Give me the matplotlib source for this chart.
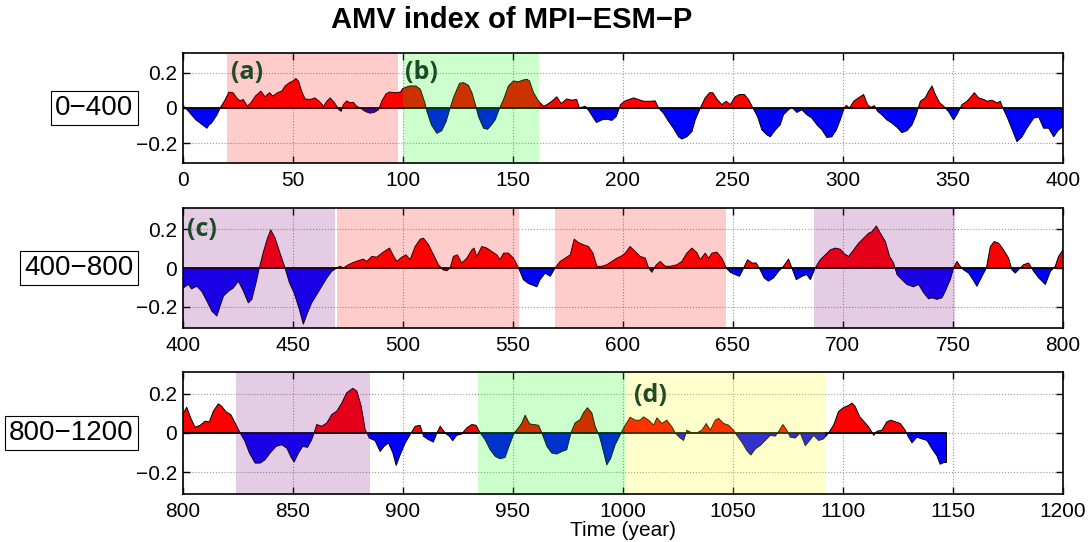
import numpy as np
import matplotlib
matplotlib.use("Agg")
import matplotlib.pyplot as plt

plt.rcParams['font.family'] = ['Liberation Sans', 'DejaVu Sans']

# AMV index, one list pair per panel (year, value)
year_0_400 = [0, 2, 6, 9, 11, 12, 13, 15.5, 17, 19, 21, 23, 24.5, 26, 27.5, 29.4, 31, 33, 35.5, 37.4,
              39.4, 41, 43, 45, 46.5, 48.5, 50, 51.4, 52.6, 54, 55.6, 58, 60, 62, 64, 65.5, 67, 69, 71, 72,
              73, 74.5, 76, 77.5, 79, 80.6, 83, 85, 87, 89, 90.5, 92.4, 94, 96.5, 99, 100, 103, 106, 108, 110,
              111, 113, 115.5, 117.7, 119.7, 121.5, 123.3, 125.8, 127.6, 129.8, 131.4, 133, 134.4, 136.7, 138.5, 140, 142, 144, 145.8, 148,
              150.3, 152.6, 154.8, 156.4, 157.6, 159.4, 161.7, 164, 165.5, 167.7, 170, 172, 174.5, 176.8, 179, 180.3, 182.9, 184.8, 186.7, 188,
              190.5, 192.7, 195, 197, 199, 201, 204.9, 207.1, 209.4, 212.4, 214.7, 216.2, 218.5, 220.8, 223, 225.3, 226.8, 229.1, 231.4, 232.9,
              235.2, 237.4, 239.4, 240.9, 242.7, 245, 247, 248.8, 251, 253, 255.2, 257.1, 259.1, 261.2, 263.2, 265.5, 267, 269.3, 271.5, 273,
              275.3, 276.8, 279.1, 281.4, 283.6, 285.9, 288.2, 290.5, 292.7, 295, 297, 298.8, 300.6, 301.5, 303, 304.9, 307.1, 309.4, 311.2, 312.7,
              314.3, 315.8, 317.7, 320, 322.3, 324.6, 326.8, 329.1, 331.4, 333.3, 335.2, 337.4, 339, 340.5, 342, 344, 345.8, 348, 350.3, 352.1,
              354.1, 356.4, 358.2, 359.7, 361.7, 364, 365.5, 367.7, 370, 371.5, 372.7, 374.5, 376.4, 379.1, 381.4, 383.6, 386.7, 389, 391.2, 393.5,
              395.8, 398]
amv_0_400 = [0.015, -0.01, -0.067, -0.095, -0.114, -0.095, -0.086, -0.04, 0.0, 0.04, 0.09, 0.085, 0.057, 0.04, 0.048, 0.01, 0.03, 0.067, 0.095, 0.063,
             0.086, 0.067, 0.086, 0.095, 0.124, 0.143, 0.152, 0.166, 0.152, 0.095, 0.051, 0.048, 0.057, 0.038, 0.01, 0.038, 0.057, 0.029, -0.01, -0.019,
             0.019, 0.04, 0.029, 0.032, 0.01, 0.0, -0.02, -0.029, -0.025, -0.01, 0.04, 0.08, 0.09, 0.086, 0.09, 0.11, 0.124, 0.124, 0.105, 0.03,
             -0.02, -0.095, -0.143, -0.128, -0.076, 0.0, 0.067, 0.139, 0.143, 0.128, 0.086, 0.019, -0.048, -0.114, -0.12, -0.1, -0.067, 0.0, 0.048, 0.124,
             0.152, 0.148, 0.158, 0.162, 0.152, 0.086, 0.038, 0.01, 0.019, 0.038, 0.063, 0.025, 0.051, 0.044, 0.048, 0.0, 0.01, -0.02, -0.057, -0.082,
             -0.067, -0.063, -0.07, -0.048, 0.02, 0.04, 0.057, 0.048, 0.038, 0.038, 0.04, 0.0, -0.03, -0.076, -0.114, -0.162, -0.175, -0.162, -0.133, -0.067,
             0.0, 0.057, 0.086, 0.086, 0.051, 0.019, 0.038, 0.019, 0.063, 0.076, 0.076, 0.048, 0.0, -0.048, -0.124, -0.152, -0.162, -0.124, -0.095, -0.038,
             -0.01, 0.004, -0.025, -0.01, -0.038, -0.057, -0.095, -0.124, -0.166, -0.162, -0.124, -0.067, 0.0, 0.015, 0.0, 0.038, 0.057, 0.076, 0.019, 0.004,
             0.013, -0.019, -0.038, -0.067, -0.086, -0.109, -0.139, -0.128, -0.095, -0.038, 0.038, 0.057, 0.095, 0.124, 0.076, 0.029, 0.01, -0.02, -0.067, -0.03,
             0.019, 0.038, 0.063, 0.086, 0.057, 0.048, 0.038, 0.044, 0.029, 0.038, 0.0, -0.048, -0.105, -0.19, -0.162, -0.114, -0.057, -0.051, -0.114, -0.114,
             -0.162, -0.124]

year_400_800 = [400, 402.6, 404, 406.4, 408.6, 411, 413.2, 415.5, 417, 418.5, 420.8, 423, 425.3, 427.6, 429.8, 431.4, 433.3, 434.8, 436.7, 438.5,
                440, 442, 444.2, 446.5, 448.5, 450.6, 453, 454.8, 456.4, 458.6, 460.9, 463.2, 465.5, 467.7, 470, 471.5, 473, 475.3, 477.6, 479.8,
                482.1, 483.6, 485.9, 488.2, 490.5, 492.7, 494, 495.5, 497.3, 499.5, 501.5, 503.3, 505.6, 507.9, 509.4, 511.7, 514, 516.2, 518.2, 520,
                521.5, 523, 524.8, 526.8, 529.1, 531.4, 532.4, 533.6, 535.9, 538.2, 540.5, 542.7, 544.2, 545.8, 548, 550.3, 552.6, 554.8, 557.1, 559.4,
                560.9, 562.4, 564.7, 567, 569.2, 571.5, 573.8, 576.1, 577.9, 579.8, 582.1, 584.4, 586.4, 588.2, 590.5, 592.7, 595, 597.3, 599.5, 601.1,
                603.3, 605.6, 607.9, 610.2, 611.7, 613.2, 615.2, 617, 619.3, 621.5, 624.6, 626.8, 629.1, 631.4, 633.6, 635.2, 637.4, 639, 640.5, 642.7,
                645, 647, 648.8, 651.1, 653, 654.9, 656.7, 658.6, 660.6, 662.4, 664.2, 666.2, 668.5, 670.8, 673, 675.3, 676.8, 678.8, 681.4, 683.6,
                685.2, 687.4, 689.7, 692, 694.3, 696.5, 698.8, 700.6, 702.6, 704.9, 707.1, 709.4, 711.7, 713.2, 715.2, 717, 719.3, 721.2, 723, 724.6,
                726.8, 729.1, 732.1, 734.4, 736.7, 738.9, 740.5, 742.7, 745, 746.5, 748.8, 750.3, 751.8, 753.3, 754.8, 757.1, 759.1, 760.9, 763.2, 765.2,
                767, 768.8, 770.8, 773, 775.3, 776.8, 778.3, 780.6, 782.1, 784.4, 786.7, 789, 792, 794.3, 796.5, 798]
amv_400_800 = [-0.105, -0.085, -0.108, -0.094, -0.12, -0.171, -0.222, -0.248, -0.197, -0.145, -0.12, -0.103, -0.068, -0.12, -0.18, -0.162, -0.077, 0.0, 0.085, 0.154,
               0.197, 0.154, 0.077, 0.0, -0.077, -0.128, -0.214, -0.29, -0.24, -0.18, -0.137, -0.094, -0.051, -0.017, 0.0, 0.009, 0.0, 0.017, 0.029, 0.038,
               0.046, 0.034, 0.06, 0.056, 0.077, 0.094, 0.103, 0.068, 0.034, 0.056, 0.068, 0.043, 0.111, 0.149, 0.154, 0.12, 0.068, 0.017, -0.009, -0.014,
               0.0, 0.06, 0.068, 0.026, 0.051, 0.094, 0.103, 0.06, 0.111, 0.103, 0.085, 0.068, 0.043, 0.077, 0.077, 0.051, 0.0, -0.06, -0.08, -0.09,
               -0.097, -0.06, -0.026, -0.043, 0.0, 0.034, 0.051, 0.068, 0.149, 0.132, 0.12, 0.111, 0.077, 0.009, 0.009, 0.017, 0.034, 0.051, 0.063, 0.077,
               0.111, 0.085, 0.06, 0.051, 0.0, -0.022, 0.017, 0.034, 0.009, 0.009, 0.017, 0.034, 0.077, 0.103, 0.08, 0.043, 0.077, 0.051, 0.077, 0.082,
               0.051, 0.0, -0.022, -0.034, -0.043, 0.0, 0.043, 0.026, 0.026, -0.009, -0.051, -0.068, -0.051, -0.017, 0.009, 0.046, 0.0, -0.06, -0.043, -0.034,
               -0.06, 0.0, 0.043, 0.068, 0.094, 0.103, 0.097, 0.074, 0.06, 0.094, 0.128, 0.154, 0.18, 0.188, 0.217, 0.18, 0.137, 0.06, 0.026, -0.034,
               -0.06, -0.085, -0.097, -0.085, -0.128, -0.159, -0.154, -0.162, -0.154, -0.12, -0.06, 0.0, 0.034, 0.009, -0.009, -0.026, -0.06, -0.094, -0.043, 0.0,
               0.111, 0.137, 0.128, 0.094, 0.051, -0.009, -0.026, 0.0, 0.017, 0.026, -0.017, -0.051, -0.085, -0.017, 0.009, 0.06]

year_800_1200 = [800, 801.8, 803.6, 805.6, 807.9, 810.2, 812.1, 813.9, 816.2, 817.7, 819.7, 821.8, 823.8, 826.1, 828.3, 830.3, 832.9, 835.2, 837.4, 839.7,
                 842.4, 845, 847.3, 849.1, 850.6, 852.6, 854.5, 856.7, 858.6, 859.7, 860.9, 863.2, 865.5, 867.7, 870, 872.3, 874.5, 877.3, 879.1, 881.1,
                 882.9, 884.8, 887.4, 889.7, 891.5, 893.5, 895.5, 897, 898.8, 901.1, 903.3, 905.6, 907.9, 909.4, 911.7, 913.9, 915.5, 917, 919.2, 921.2,
                 922.7, 924.5, 926.8, 929.1, 931.4, 933.3, 935.2, 937.4, 939.7, 942, 944.2, 946.5, 948.5, 950.6, 952.6, 954.1, 955.6, 957.6, 959.4, 961.7,
                 963.2, 965.5, 967.7, 970, 972.3, 974.5, 976.4, 978.3, 980.6, 982.1, 983.9, 985.9, 987.4, 989.4, 991.2, 992.7, 994.5, 996.5, 998.8, 1001.1,
                 1003.3, 1005.6, 1007.9, 1009.4, 1011.7, 1014, 1015.5, 1017.7, 1020, 1022.3, 1023.8, 1026.1, 1027.6, 1029.1, 1031.4, 1033.6, 1035.9, 1037.9, 1039.7, 1042,
                 1043.5, 1045.8, 1048, 1050.3, 1051.8, 1054.1, 1056.4, 1058.2, 1060.2, 1062.4, 1064.7, 1067, 1069.3, 1071.2, 1072.7, 1074.5, 1076.1, 1078.3, 1080.6, 1082.9,
                 1084.9, 1086.7, 1089, 1091.2, 1093.5, 1095.8, 1098, 1100.3, 1102.6, 1104.1, 1105.6, 1107.6, 1109.4, 1111.7, 1114, 1115.5, 1117.7, 1120, 1121.8, 1123.8,
                 1126.1, 1128.3, 1129.8, 1131.4, 1133.6, 1135.9, 1138.2, 1140.5, 1142.7, 1144.2, 1145.8, 1147]
amv_800_1200 = [0.094, 0.131, 0.077, 0.029, 0.039, 0.06, 0.056, 0.111, 0.148, 0.136, 0.107, 0.094, 0.051, 0.0, -0.043, -0.102, -0.153, -0.153, -0.136, -0.102,
                -0.068, -0.06, -0.077, -0.12, -0.148, -0.102, -0.068, -0.073, -0.034, 0.0, 0.043, 0.034, 0.051, 0.094, 0.111, 0.153, 0.204, 0.227, 0.213, 0.136,
                0.017, -0.026, -0.039, -0.094, -0.068, -0.051, -0.102, -0.165, -0.111, -0.051, -0.009, 0.034, 0.039, -0.017, -0.034, -0.046, 0.0, 0.034, 0.0, -0.017,
                -0.039, -0.012, -0.005, 0.026, 0.043, 0.039, 0.0, -0.034, -0.085, -0.119, -0.131, -0.124, -0.06, 0.0, 0.026, 0.051, 0.09, 0.046, 0.043, 0.039,
                0.0, -0.068, -0.102, -0.107, -0.094, -0.085, 0.0, 0.051, 0.068, 0.102, 0.128, 0.102, 0.034, -0.017, -0.094, -0.162, -0.128, -0.06, -0.009, 0.04,
                0.08, 0.065, 0.065, 0.082, 0.065, 0.04, 0.077, 0.048, 0.065, 0.031, 0.0, -0.026, -0.038, 0.014, 0.0, 0.0, 0.014, 0.048, 0.014, 0.065,
                0.074, 0.048, 0.04, 0.014, -0.012, -0.047, -0.09, -0.112, -0.081, -0.064, -0.038, -0.012, -0.016, 0.014, 0.043, 0.014, -0.021, -0.026, 0.0, -0.064,
                -0.038, -0.012, -0.038, -0.03, 0.0, 0.04, 0.109, 0.129, 0.14, 0.152, 0.134, 0.083, 0.06, 0.031, -0.012, 0.009, 0.014, 0.057, 0.065, 0.057,
                0.048, 0.014, -0.021, -0.05, -0.021, -0.03, -0.038, -0.081, -0.116, -0.159, -0.15, -0.15]

panel_names = ['0\u2212400', '400\u2212800', '800\u22121200']
panel_start = [0, 400, 800]

# shaded periods: start, end, colour
shade_start = [20, 100, 400, 470, 569, 687, 824, 934, 1001]
shade_end = [98, 162, 469, 553, 647, 751, 885, 1001, 1092]
shade_color = ['red', 'lime', 'purple', 'red', 'red', 'purple', 'purple', 'lime', 'yellow']

tag_text = ['(a)', '(b)', '(c)', '(d)']
tag_x = [22, 101, 402, 1005]
tag_y = [0.2, 0.2, 0.2, 0.19]

year = np.array(year_0_400 + year_400_800 + year_800_1200)
amv = np.array(amv_0_400 + amv_400_800 + amv_800_1200)

fig = plt.figure(figsize=(10.89, 5.42), dpi=100)
boxes = [[0.1678, 0.6993, 0.8083, 0.2029],
         [0.1678, 0.3948, 0.8083, 0.2214],
         [0.1678, 0.0886, 0.8083, 0.2251]]

for i, box in enumerate(boxes):
    ax = fig.add_axes(box)
    x0 = panel_start[i]
    ax.fill_between(year, amv, 0, where=amv >= 0, interpolate=True, color='#ff0000', lw=0, zorder=2)
    ax.fill_between(year, amv, 0, where=amv <= 0, interpolate=True, color='#0000ff', lw=0, zorder=2)
    ax.plot(year, amv, color='black', lw=0.7, zorder=3)
    ax.plot([year[0], year[-1]], [0, 0], color='black', lw=1.3, zorder=3)
    ax.plot([year[-1], year[-1]], [0, amv[-1]], color='black', lw=0.7, zorder=3)

    for s, e, c in zip(shade_start, shade_end, shade_color):
        ax.axvspan(s, e, color=c, alpha=0.2, lw=0, zorder=4)

    for t, tx, ty in zip(tag_text, tag_x, tag_y):
        if x0 <= tx < x0 + 400:
            ax.text(tx, ty, t, fontsize=18, fontweight='bold', color='#1f4a26',
                    family=['Open Sans', 'DejaVu Sans'], va='center', ha='left', zorder=5)

    ax.set_xlim(x0, x0 + 400)
    ax.set_ylim(-0.31, 0.31)
    ax.set_xticks(np.arange(x0, x0 + 401, 50))
    ax.set_yticks([-0.2, 0, 0.2])
    ax.set_yticklabels(['\u22120.2', '0', '0.2'])
    ax.grid(True, linestyle=':', color='#999999', lw=0.8, zorder=0)
    ax.set_axisbelow(True)
    ax.tick_params(direction='in', top=True, right=True, length=5, width=1, labelsize=15)
    ax.tick_params(axis='x', pad=6)
    ax.tick_params(axis='y', pad=4)
    for sp in ax.spines.values():
        sp.set_linewidth(1.2)
        sp.set_zorder(6)

    # boxed period label left of the axes
    yc = box[1] + box[3] / 2
    fig.text(0.1225, yc, panel_names[i], fontsize=20, ha='right', va='center',
             bbox=dict(boxstyle='square,pad=0.15', fc='white', ec='black', lw=0.8))

    if i == 2:
        ax.set_xlabel('Time (year)', fontsize=15, labelpad=0)

fig.text(0.47, 0.963, 'AMV index of MPI\u2212ESM\u2212P', fontsize=21, fontweight='bold', ha='center', va='center')

fig.savefig('out.png', dpi=100)
